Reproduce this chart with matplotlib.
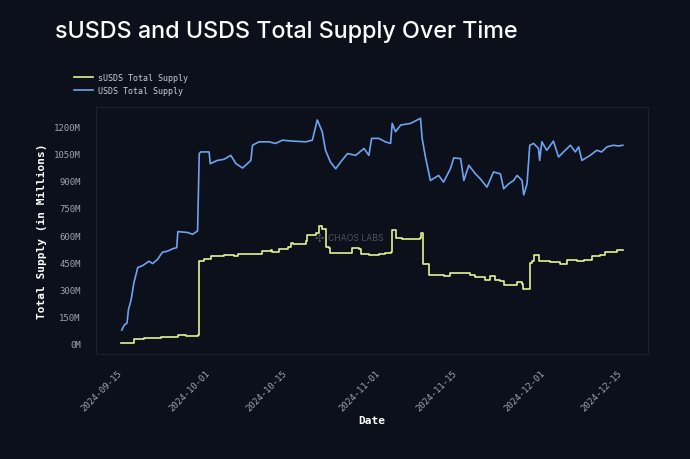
import numpy as np
import pandas as pd
import matplotlib
matplotlib.use("Agg")
import matplotlib.pyplot as plt
import matplotlib.dates as mdates
from matplotlib.ticker import FuncFormatter, MultipleLocator

# days since 2024-09-15, values in millions
start = pd.Timestamp("2024-09-15")

usds_days = [-0.4, 0.05, 0.55, 0.8, 1.3, 1.8, 2.5, 3.4, 4.55, 5.2, 6.1, 7.0, 7.95, 8.85,
             9.6, 9.8, 11.6, 12.5, 13.4, 13.7, 14.0, 15.5, 15.7, 17.0, 18.2, 19.45, 20.4,
             21.6, 23.1, 23.4, 24.6, 26.4, 27.6, 28.85, 30.7, 33.1, 34.3, 35.2, 36.1, 36.7,
             37.6, 38.55, 39.45, 40.7, 42.2, 43.7, 44.6, 45.1, 46.4, 47.6, 48.55, 48.85,
             49.45, 50.4, 52.2, 54.0, 54.3, 54.9, 55.8, 57.3, 58.2, 59.45, 60.05, 61.3,
             61.9, 62.8, 64.0, 64.9, 66.1, 67.3, 68.55, 69.15, 70.05, 70.95, 71.6, 72.5,
             72.8, 73.4, 73.9, 74.6, 75.5, 75.7, 76.1, 77.0, 78.2, 79.15, 80.05, 81.3,
             82.2, 82.8, 83.4, 84.9, 86.1, 87.0, 87.95, 89.15, 90.05, 90.85]
usds_supply = [74, 102, 113, 186, 242, 336, 420, 431, 455, 442, 465, 505, 511, 524,
               530, 619, 614, 604, 623, 1051, 1060, 1060, 995, 1013, 1019, 1041, 995,
               971, 1013, 1097, 1116, 1116, 1107, 1125, 1120, 1116, 1125, 1237, 1172, 1069,
               1004, 967, 1004, 1051, 1041, 1079, 1041, 1135, 1135, 1116, 1107, 1218,
               1172, 1209, 1218, 1246, 1135, 1032, 902, 930, 893, 967, 1027, 1023,
               902, 986, 939, 911, 865, 949, 939, 856, 883, 902, 930, 902,
               822, 883, 1097, 1107, 1079, 1013, 1116, 1069, 1120, 1032, 1060, 1097,
               1060, 1088, 1013, 1041, 1069, 1060, 1088, 1097, 1093, 1097]

susds_days = [-0.55, 0.96, 1.87, 3.7, 6.7, 9.8, 11.3, 13.4, 13.58, 14.6, 15.8, 18.2, 20.05,
              20.7, 23.1, 25.2, 26.7, 27.0, 28.2, 29.8, 30.4, 30.7, 33.1, 33.4, 34.9, 35.6,
              36.0, 36.55, 36.7, 37.3, 37.6, 40.4, 41.6, 42.8, 43.1, 44.6, 46.4, 47.6, 48.55,
              48.85, 49.45, 49.6, 50.7, 52.2, 54.0, 54.1, 54.4, 55.2, 55.5, 58.2, 59.45, 61.9,
              63.1, 64.0, 65.8, 66.7, 67.6, 68.55, 69.15, 70.95, 71.6, 72.5, 72.7, 73.5, 73.9,
              74.3, 74.6, 75.2, 75.5, 77.6, 79.45, 80.7, 82.5, 83.7, 85.2, 86.7, 87.6, 89.15,
              89.8, 90.85]
susds_supply = [3, 3, 22, 28, 37, 45, 41, 45, 455, 469, 483, 487, 483,
                493, 497, 511, 517, 505, 521, 536, 558, 550, 567, 599, 614, 651,
                636, 636, 536, 530, 498, 502, 530, 521, 493, 487, 493, 502, 505,
                628, 628, 586, 577, 580, 586, 610, 442, 437, 381, 375, 391, 391,
                380, 366, 349, 372, 353, 344, 325, 325, 338, 330, 301, 301, 446,
                455, 487, 487, 455, 450, 442, 461, 455, 461, 483, 487, 505, 505,
                517, 517]

usds_dates = start + pd.to_timedelta(usds_days, unit="D")
susds_dates = start + pd.to_timedelta(susds_days, unit="D")

bg = "#0b101b"
mono = "DejaVu Sans Mono"

fig = plt.figure(figsize=(6.9, 4.6), dpi=100, facecolor=bg)
ax = fig.add_axes([0.139, 0.228, 0.8, 0.537], facecolor=bg)

ax.plot(susds_dates, susds_supply, color="#e2f295", lw=1.2, drawstyle="steps-post",
        label="sUSDS Total Supply")
ax.plot(usds_dates, usds_supply, color="#6fa3ef", lw=1.2, label="USDS Total Supply")

ax.yaxis.set_major_locator(MultipleLocator(150))
ax.yaxis.set_major_formatter(FuncFormatter(lambda v, p: f"{int(v)}M"))
ax.xaxis.set_major_locator(mdates.DayLocator(bymonthday=[1, 15]))
ax.xaxis.set_major_formatter(mdates.DateFormatter("%Y-%m-%d"))

ax.tick_params(length=0, labelsize=6.5, colors="#9ea3ae")
ax.tick_params(axis="y", pad=11)
ax.tick_params(axis="x", pad=10)
for lab in ax.get_xticklabels() + ax.get_yticklabels():
    lab.set_fontfamily(mono)
plt.setp(ax.get_xticklabels(), rotation=45, ha="right")

for sp in ax.spines.values():
    sp.set_color("#1a202c")
    sp.set_linewidth(0.8)

ax.set_ylabel("Total Supply (in Millions)", fontfamily=mono, fontsize=8,
              fontweight="bold", color="white", labelpad=5)
ax.set_xlabel("Date", fontfamily=mono, fontsize=8, fontweight="bold",
              color="white", labelpad=2)

fig.text(0.08, 0.93, "sUSDS and USDS Total Supply Over Time", fontsize=16.8,
         fontfamily="Inter", fontweight="medium", color="white", va="center")

leg = fig.legend(loc="upper left", bbox_to_anchor=(0.097, 0.855), frameon=False,
                 prop={"family": mono, "size": 6}, handlelength=2.2,
                 handletextpad=0.6, labelspacing=0.5)
for t in leg.get_texts():
    t.set_color("#c9ccd3")

fig.text(0.475, 0.481, "CHAOS LABS", fontsize=6.3, color="#5b606b",
         fontfamily="Inter", va="center", ha="left", alpha=0.8)
fig.text(0.463, 0.481, "\u2723", fontsize=8, color="#5b606b", va="center",
         ha="center", alpha=0.8)

fig.savefig("out.png", dpi=100, facecolor=bg)
